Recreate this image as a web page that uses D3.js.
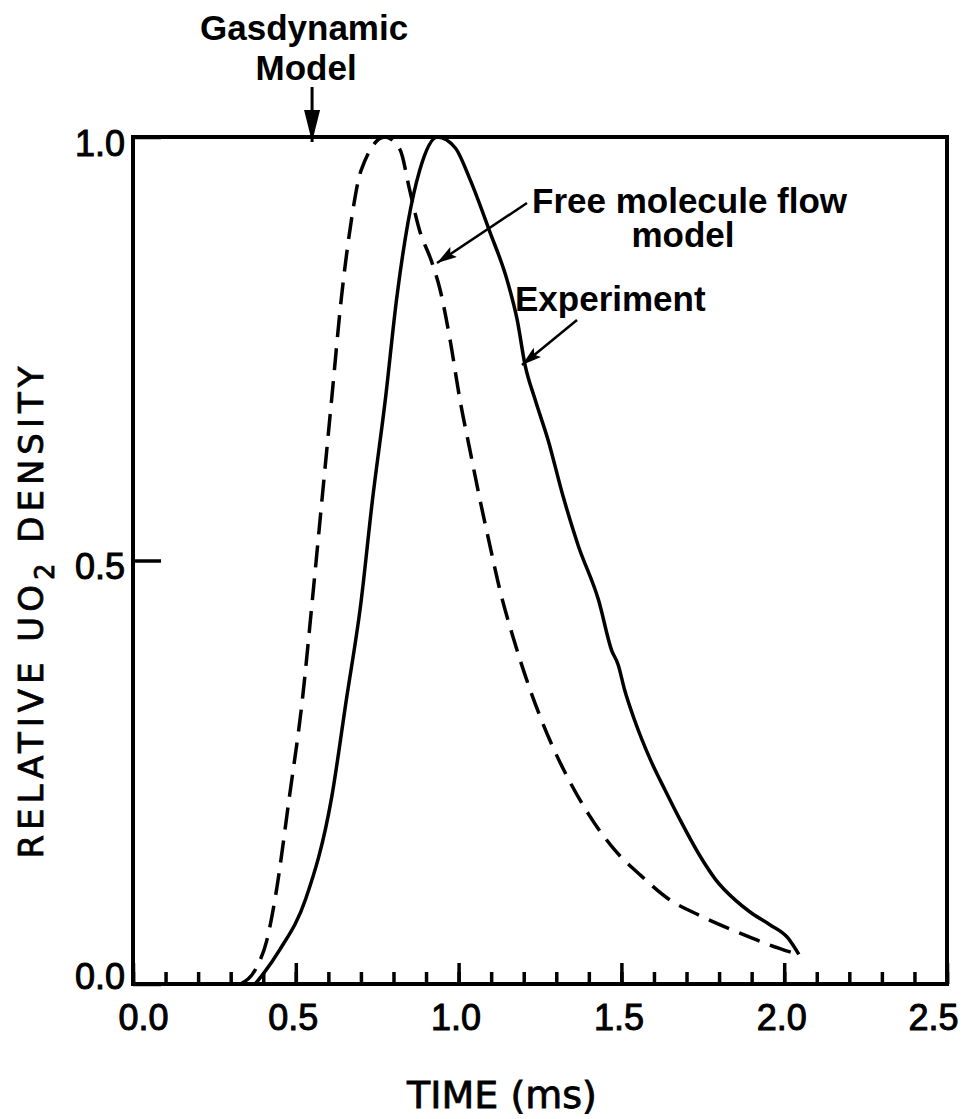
<!DOCTYPE html>
<html>
<head>
<meta charset="utf-8">
<script src="https://cdn.jsdelivr.net/npm/d3@7"></script>
<style>
  body { margin: 0; background: #fff; }
  svg { display: block; }
  .tick text { font-family: "Liberation Sans", Arial, sans-serif; stroke: #000; stroke-width: 1; }
  .note { font-family: "Liberation Sans", Arial, sans-serif; font-weight: bold; font-size: 35px; }
  .title { font-family: "DejaVu Sans", sans-serif; stroke: #000; stroke-width: 0.8; }
</style>
</head>
<body>
<svg id="chart"></svg>
<script>
// Experiment (solid line): time in ms, relative density
const expTime = [0.375, 0.40, 0.45, 0.53, 0.61, 0.655, 0.70, 0.735, 0.775, 0.81, 0.845, 0.88, 0.935,
  0.99, 1.035, 1.096, 1.149, 1.18, 1.204, 1.235, 1.275, 1.32, 1.367, 1.43, 1.47, 1.49, 1.51, 1.54,
  1.59, 1.634, 1.68, 1.74, 1.79, 1.85, 1.895, 1.956, 2.01, 2.045];
const expDensity = [0.0, 0.012, 0.04, 0.10, 0.22, 0.335, 0.45, 0.57, 0.69, 0.81, 0.90, 0.96, 1.0,
  0.987, 0.95, 0.888, 0.831, 0.784, 0.731, 0.69, 0.642, 0.577, 0.518, 0.453, 0.394, 0.377, 0.347, 0.312,
  0.264, 0.229, 0.194, 0.152, 0.123, 0.099, 0.085, 0.07, 0.055, 0.035];

// Free molecule flow model (dashed line)
const fmTime = [0.33, 0.38, 0.41, 0.436, 0.48, 0.52, 0.55, 0.58, 0.61, 0.64, 0.67, 0.70, 0.774,
  0.82, 0.85, 0.88, 0.918, 0.943, 0.974, 1.004, 1.035, 1.066, 1.096, 1.127, 1.17, 1.22, 1.28, 1.34,
  1.40, 1.48, 1.557, 1.65, 1.74, 1.864, 1.956, 2.05];
const fmDensity = [0.0, 0.02, 0.05, 0.10, 0.22, 0.335, 0.45, 0.57, 0.69, 0.81, 0.90, 0.96, 1.0,
  0.985, 0.937, 0.89, 0.852, 0.82, 0.76, 0.69, 0.63, 0.571, 0.518, 0.465, 0.406, 0.347, 0.288, 0.24,
  0.20, 0.158, 0.129, 0.099, 0.081, 0.06, 0.046, 0.034];

const xMajorTicks = [0.0, 0.5, 1.0, 1.5, 2.0, 2.5];
const xMinorTicks = d3.range(0, 26).map(i => i / 10);
const yTicks = [0.0, 0.5, 1.0];
const gasdynamicPeak = 0.55;

const width = 969, height = 1119;
const margin = { top: 137, right: 22, bottom: 135, left: 133 };
const innerWidth = width - margin.left - margin.right;
const innerHeight = height - margin.top - margin.bottom;

const svg = d3.select("#chart").attr("width", width).attr("height", height);

const x = d3.scaleLinear().domain([0, 2.5]).range([0, innerWidth]);
const y = d3.scaleLinear().domain([0, 1]).range([innerHeight, 0]);

const g = svg.append("g").attr("transform", `translate(${margin.left},${margin.top})`);

// minor x ticks, inward
g.append("g")
  .attr("transform", `translate(0,${innerHeight})`)
  .call(d3.axisBottom(x).tickValues(xMinorTicks).tickSize(-12).tickFormat(""))
  .call(a => a.select(".domain").remove())
  .call(a => a.selectAll("line").attr("stroke-width", 3.5));

// major x ticks with labels
g.append("g")
  .attr("transform", `translate(0,${innerHeight})`)
  .call(d3.axisBottom(x).tickValues(xMajorTicks).tickSizeInner(-21).tickSizeOuter(0)
    .tickPadding(20).tickFormat(d3.format(".1f")))
  .call(a => a.select(".domain").remove())
  .call(a => a.selectAll("line").attr("stroke-width", 3.5))
  .call(a => a.selectAll("text").attr("font-size", 36).attr("fill", "#000")
    .attr("dx", d => d === 0 ? 10 : d === 2.5 ? -14 : -3));

// y ticks
g.append("g")
  .call(d3.axisLeft(y).tickValues(yTicks).tickSizeInner(-28).tickSizeOuter(0)
    .tickPadding(8).tickFormat(d3.format(".1f")))
  .call(a => a.select(".domain").remove())
  .call(a => a.selectAll("line").attr("stroke-width", 3.5))
  .call(a => a.selectAll("text").attr("font-size", 36).attr("fill", "#000")
    .attr("dy", d => d === 1 ? "0.5em" : d === 0 ? "0.12em" : "0.5em"));

// frame
g.append("rect")
  .attr("width", innerWidth).attr("height", innerHeight)
  .attr("fill", "none").attr("stroke", "#000").attr("stroke-width", 4);

const line = d3.line()
  .x(d => x(d[0]))
  .y(d => y(d[1]))
  .curve(d3.curveMonotoneX);

g.append("path")
  .datum(d3.zip(expTime, expDensity))
  .attr("d", line)
  .attr("fill", "none").attr("stroke", "#000").attr("stroke-width", 3.5);

g.append("path")
  .datum(d3.zip(fmTime, fmDensity))
  .attr("d", line)
  .attr("fill", "none").attr("stroke", "#000").attr("stroke-width", 3.5)
  .attr("stroke-dasharray", "22,11");

// axis titles
svg.append("text").attr("class", "title")
  .attr("x", 502).attr("y", 1108)
  .attr("text-anchor", "middle")
  .attr("font-size", 38)
  .text("TIME (ms)");

const yTitle = svg.append("text").attr("class", "title")
  .attr("transform", "translate(43,610) rotate(-90)")
  .attr("text-anchor", "middle")
  .attr("font-size", 34)
  .attr("letter-spacing", 5);
yTitle.append("tspan").text("RELATIVE UO");
yTitle.append("tspan").attr("font-size", 26).attr("dy", 11).text("2");
yTitle.append("tspan").attr("dy", -11).text(" DENSITY");

// arrow markers
const defs = svg.append("defs");
defs.append("marker")
  .attr("id", "head")
  .attr("viewBox", "0 0 20 12")
  .attr("refX", 20).attr("refY", 6)
  .attr("markerWidth", 20).attr("markerHeight", 12)
  .attr("markerUnits", "userSpaceOnUse")
  .attr("orient", "auto")
  .append("path").attr("d", "M0,0 L20,6 L0,12 L4,6 Z").attr("fill", "#000");
defs.append("marker")
  .attr("id", "longhead")
  .attr("viewBox", "0 0 32 16")
  .attr("refX", 32).attr("refY", 8)
  .attr("markerWidth", 32).attr("markerHeight", 16)
  .attr("markerUnits", "userSpaceOnUse")
  .attr("orient", "auto")
  .append("path").attr("d", "M0,0 L32,8 L0,16 Z").attr("fill", "#000");

// annotations
const gx = margin.left + x(gasdynamicPeak);
svg.append("text").attr("class", "note").attr("x", gx - 8).attr("y", 40)
  .attr("text-anchor", "middle").text("Gasdynamic");
svg.append("text").attr("class", "note").attr("x", gx - 6).attr("y", 80)
  .attr("text-anchor", "middle").text("Model");
svg.append("line")
  .attr("x1", gx).attr("y1", 87).attr("x2", gx).attr("y2", 142)
  .attr("stroke", "#000").attr("stroke-width", 3)
  .attr("marker-end", "url(#longhead)");

svg.append("text").attr("class", "note").attr("x", 532).attr("y", 213).text("Free molecule flow");
svg.append("text").attr("class", "note").attr("x", 683).attr("y", 247)
  .attr("text-anchor", "middle").text("model");
svg.append("line")
  .attr("x1", 527).attr("y1", 203).attr("x2", 437).attr("y2", 263)
  .attr("stroke", "#000").attr("stroke-width", 2.5)
  .attr("marker-end", "url(#head)");

svg.append("text").attr("class", "note").attr("x", 515).attr("y", 311).text("Experiment");
svg.append("line")
  .attr("x1", 577).attr("y1", 320).attr("x2", 522).attr("y2", 365)
  .attr("stroke", "#000").attr("stroke-width", 2.5)
  .attr("marker-end", "url(#head)");
</script>
</body>
</html>
